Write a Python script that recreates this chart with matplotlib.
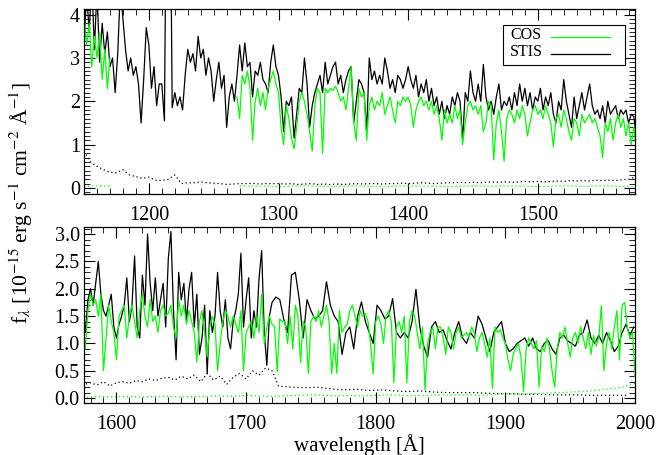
import numpy as np
import matplotlib
matplotlib.use("Agg")
import matplotlib.pyplot as plt
from matplotlib.ticker import MultipleLocator, FormatStrFormatter
from matplotlib.patches import Rectangle

plt.rcParams.update({
    "font.family": ["Liberation Serif", "DejaVu Serif"],
    "mathtext.fontset": "stix",
    "axes.linewidth": 0.9,
})

# STIS G140L flux, 1150-1720 A on a 2 A grid (1e-15 erg/s/cm2/A)
STIS_FUV_START, STIS_FUV_STEP = 1150.0, 2.0
stis_fuv_flux = [
    3.3, 4.5, 3.6, 4.8, 3.2,   4.6, 2.9, 3.8, 3.1, 3.6,
    2.8, 3.0, 2.2, 3.1, 4.6,   3.9, 3.2, 2.7, 3.0, 2.6,
    2.8, 2.4, 1.5, 2.5, 3.7,   3.3, 2.3, 2.8, 1.9, 2.4,
    2.4, 1.55, 9.0, 9.0, 1.85, 2.2, 1.9, 2.1, 1.8, 2.6,
    3.2, 2.9, 3.1, 2.7, 3.5,   3.0, 3.2, 2.6, 3.0, 2.7,
    2.0, 2.5, 2.9, 2.3, 2.6,   1.4, 2.1, 2.4, 2.0, 2.6,
    3.3, 2.7, 3.35, 2.8, 2.9,  2.1, 2.7, 2.6, 2.9, 2.5,
    2.4, 2.2, 2.9, 3.3, 2.8,   2.6, 2.1, 1.3, 2.0, 1.9,
    2.1, 1.15, 1.7, 2.3, 2.2,  3.0, 2.4, 1.4, 1.9, 2.2,
    2.4, 2.6, 2.2, 2.9, 2.4,   2.6, 2.8, 2.9, 2.4, 2.6,
    2.2, 2.5, 2.7, 2.8, 1.5,   2.0, 2.5, 2.4, 2.2, 1.3,
    3.0, 2.5, 2.7, 2.4, 2.6,   2.4, 3.0, 2.7, 2.3, 2.5,
    2.2, 2.6, 2.5, 2.3, 2.5,   2.8, 2.5, 2.3, 2.6, 2.1,
    2.4, 2.2, 2.5, 2.0, 2.3,   1.9, 2.1, 1.7, 2.0, 1.6,
    1.9, 1.7, 2.1, 1.9, 2.2,   2.0, 1.1, 2.2, 2.0, 2.7,
    2.2, 2.0, 2.4, 2.0, 2.85,  2.1, 1.8, 2.0, 1.7, 2.1,
    2.4, 1.8, 2.0, 1.9, 2.1,   1.8, 2.2, 1.9, 2.4, 2.0,
    2.3, 1.9, 2.2, 1.8, 2.1,   2.0, 2.3, 1.8, 2.1, 1.9,
    2.2, 1.7, 1.5, 2.0, 1.8,   2.5, 2.0, 1.7, 1.4, 2.1,
    1.6, 1.9, 2.2, 1.8, 2.1,   2.4, 1.9, 1.7, 1.8, 1.6,
    1.9, 1.5, 2.0, 1.7, 1.8,   1.9, 1.6, 1.8, 1.7, 1.8,
    1.5, 1.7, 1.65, 1.2, 1.8,  2.0, 1.7, 2.1, 2.5, 1.9,
    1.6, 1.5, 1.7, 1.9, 1.3,   1.1, 1.35, 1.5, 1.7, 2.2,
    1.4, 1.7, 2.6, 1.3, 1.1,   2.25, 1.7, 3.0, 2.1, 1.6,
    2.2, 1.5, 1.8, 2.1, 1.3,   2.55, 3.05, 1.6, 0.7, 2.3,
    1.8, 2.1, 1.4, 2.0, 2.3,   1.3, 1.9, 0.8, 1.1, 1.7,
    0.45, 1.6, 1.2, 1.5, 2.3,  1.6, 1.3, 1.8, 1.1, 0.9,
    1.4, 1.6, 1.9, 2.65, 1.3,  1.8, 2.2, 1.1, 1.6, 1.3,
    2.2, 2.7, 1.2, 0.6, 1.5,   1.75,
]

# STIS G230L flux, 1723-1999 A on a 3 A grid
STIS_NUV_START, STIS_NUV_STEP = 1723.0, 3.0
stis_nuv_flux = [
    1.85, 1.8, 1.45, 1.2, 2.25, 2.3, 1.8, 1.1, 1.8, 1.6,
    1.45, 1.5, 1.6, 2.13, 1.7, 1.5, 1.4, 0.8, 1.2, 1.3,
    0.9, 1.5, 1.76, 1.4, 1.2, 1.0, 1.7, 1.6, 1.45, 1.5,
    1.82, 1.2, 1.1, 1.2, 1.1, 1.4, 1.99, 1.3, 0.95, 0.75,
    1.3, 1.4, 1.2, 1.25, 1.05, 0.9, 1.2, 1.4, 1.1, 1.0,
    1.2, 1.1, 1.5, 1.35, 1.1, 0.85, 1.2, 1.3, 1.4, 1.0,
    0.85, 0.9, 1.0, 1.05, 1.1, 0.95, 1.1, 0.9, 0.85, 1.0,
    1.05, 0.9, 0.8, 1.1, 1.15, 1.05, 1.0, 0.95, 1.15, 1.2,
    1.43, 1.1, 1.0, 1.15, 1.0, 1.2, 1.05, 0.85, 0.95, 1.2,
    1.35, 1.15, 1.3,
]

# STIS errors: G140L every 5 A from 1150, G230L every 10 A from 1725
STIS_FUV_ERR_START, STIS_FUV_ERR_STEP = 1150.0, 5.0
stis_fuv_err = [
    0.85, 0.6, 0.5, 0.42, 0.36, 0.35, 0.42, 0.3, 0.26, 0.22,
    0.25, 0.18, 0.17, 0.2, 0.3, 0.1, 0.12, 0.12, 0.14, 0.12,
    0.11, 0.1, 0.08, 0.09, 0.1, 0.1, 0.11, 0.09, 0.1, 0.1,
    0.1, 0.09, 0.1, 0.08, 0.09, 0.1, 0.08, 0.09, 0.08, 0.09,
    0.08, 0.09, 0.1, 0.09, 0.1, 0.1, 0.09, 0.1, 0.1, 0.11,
    0.1, 0.11, 0.12, 0.11, 0.1, 0.11, 0.12, 0.12, 0.13, 0.12,
    0.13, 0.12, 0.13, 0.14, 0.13, 0.14, 0.13, 0.14, 0.15, 0.14,
    0.15, 0.14, 0.15, 0.16, 0.15, 0.17, 0.16, 0.17, 0.16, 0.18,
    0.17, 0.18, 0.17, 0.19, 0.2, 0.25, 0.28, 0.24, 0.3, 0.22,
    0.28, 0.3, 0.27, 0.32, 0.3, 0.35, 0.32, 0.36, 0.38, 0.33,
    0.4, 0.35, 0.42, 0.3, 0.45, 0.33, 0.4, 0.25, 0.38, 0.45,
    0.35, 0.5, 0.42, 0.55, 0.5,
]
STIS_NUV_ERR_START, STIS_NUV_ERR_STEP = 1725.0, 10.0
stis_nuv_err = [
    0.22, 0.2, 0.19, 0.2, 0.17, 0.15, 0.16, 0.14, 0.15, 0.13,
    0.12, 0.13, 0.11, 0.1, 0.1, 0.1, 0.09, 0.08, 0.08, 0.07,
    0.07, 0.06, 0.06, 0.06, 0.05, 0.05, 0.05, 0.05,
]

# COS flux: short blue piece (1150-1170) and main piece (1268-2000), 2 A grid
COS_A_START, COS_A_STEP = 1150.0, 2.0
cos_a_flux = [4.0, 3.3, 3.8, 2.8, 3.5, 3.0, 3.6, 2.5, 3.2, 2.3, 3.0]
COS_A_ERR_START, COS_A_ERR_STEP = 1150.0, 5.0
cos_a_err = [0.05, 0.04, 0.05, 0.04, 0.05]

COS_B_START, COS_B_STEP = 1268.0, 2.0
cos_b_flux = [
    2.1,
    1.6, 2.6, 2.4, 2.7, 2.3,    1.1, 2.0, 2.3, 1.9, 2.2,
    1.8, 2.3, 2.5, 2.7, 2.4,    2.2, 1.4, 1.0, 1.9, 1.6,
    1.15, 0.9, 1.4, 2.0, 2.2,   2.0, 1.7, 1.3, 0.85, 1.9,
    2.3, 2.2, 0.8, 2.3, 2.2,    2.3, 2.25, 2.35, 2.2, 2.0,
    2.1, 1.8, 2.3, 2.8, 1.5,    1.1, 2.3, 2.1, 2.2, 1.1,
    1.9, 2.1, 1.8, 2.0, 1.9,    2.2, 1.7, 1.9, 2.1, 1.8,
    1.5, 2.0, 1.9, 2.1, 2.0,    2.1, 1.9, 1.4, 1.8, 2.0,
    2.1, 1.9, 2.0, 1.8, 2.0,    1.7, 1.9, 1.6, 1.1, 1.8,
    1.5, 1.7, 1.5, 1.9, 1.6,    1.8, 1.0, 1.5, 1.9, 2.0,
    1.8, 1.9, 1.7, 1.9, 1.3,    1.5, 2.0, 1.9, 0.65, 1.5,
    1.8, 1.3, 0.62, 1.6, 1.8,   1.7, 1.5, 1.8, 1.6, 1.9,
    1.7, 1.2, 1.5, 1.8, 1.9,    1.7, 1.8, 1.6, 1.9, 1.7,
    1.5, 0.95, 1.6, 1.7, 1.4,   1.8, 1.6, 1.3, 1.1, 1.6,
    1.5, 1.2, 1.7, 1.5, 1.6,    1.7, 1.5, 1.6, 1.4, 1.2,
    0.7, 1.5, 1.3, 1.6, 1.1,    1.5, 1.7, 1.4, 1.6, 1.2,
    1.5, 1.0, 1.4, 0.9, 1.6,    1.9, 1.7, 1.8, 1.5, 1.9,
    0.5, 1.1, 1.7, 1.4, 1.2,    0.7, 1.5, 1.6, 1.7, 1.1,
    1.5, 1.7, 1.4, 1.1, 1.6,    1.9, 1.5, 1.3, 1.8, 1.4,
    1.5, 1.2, 1.6, 1.7, 1.5,    1.55, 1.7, 1.3, 1.1, 1.8,
    1.5, 1.7, 1.35, 1.6, 1.4,   1.2, 0.66, 1.4, 1.6, 1.2,
    0.75, 1.3, 1.5, 1.35, 0.5,  1.0, 1.4, 1.6, 1.5, 1.3,
    1.5, 1.35, 1.2, 1.6, 0.5,   1.2, 1.3, 1.4, 1.1, 1.5,
    1.2, 1.9, 1.0, 1.3, 1.5,    1.35, 1.3, 0.48, 1.45, 1.4,
    1.4, 1.0, 1.5, 0.9, 1.7,    1.5, 0.65, 1.4, 1.3, 0.45,
    1.4, 1.5, 1.4, 1.6, 1.3,    1.5, 1.7, 1.4, 0.45, 1.0,
    0.45, 1.6, 1.2, 1.3, 1.35,  1.6, 1.7, 1.5, 1.3, 1.6,
    1.5, 1.55, 1.4, 1.0, 0.44,  1.4, 1.5, 1.35, 1.0, 1.5,
    1.6, 1.4, 0.28, 1.3, 1.4,   1.2, 1.5, 0.28, 1.4, 1.6,
    1.5, 1.2, 0.9, 1.3, 0.15,   1.0, 1.2, 1.3, 0.9, 1.3,
    1.3, 1.1, 0.8, 1.3, 1.2,    0.9, 1.2, 1.3, 1.1, 1.15,
    1.2, 1.1, 1.3, 1.2, 0.85,   1.1, 1.2, 1.0, 0.75, 1.1,
    0.18, 1.3, 1.2, 1.25, 1.1,  1.0, 0.7, 0.5, 0.8, 0.9,
    1.0, 0.75, 0.12, 0.9, 1.1,  1.0, 0.9, 1.05, 0.2, 0.95,
    0.85, 1.1, 0.9, 0.5, 0.2,   0.9, 1.2, 1.1, 1.3, 1.0,
    0.75, 1.1, 1.2, 1.0, 1.3,   1.1, 0.9, 1.2, 0.8, 1.15,
    0.95, 1.1, 1.69, 0.5, 1.0,  1.2, 0.9, 1.3, 1.6, 0.7,
    1.7, 1.75, 1.3, 1.1, 1.2,   0.4,
]
COS_B_ERR_START, COS_B_ERR_STEP = 1270.0, 10.0
cos_b_err = [
    0.05, 0.04, 0.05, 0.03, 0.04, 0.05, 0.04, 0.03, 0.04, 0.05,
    0.04, 0.03, 0.04, 0.05, 0.04, 0.04, 0.03, 0.04, 0.05, 0.04,
    0.04, 0.05, 0.04, 0.03, 0.04, 0.05, 0.04, 0.04, 0.05, 0.04,
    0.03, 0.02, 0.03, 0.02, 0.03, 0.02, 0.03, 0.03, 0.02, 0.03,
    0.03, 0.04, 0.03, 0.05, 0.04, 0.03, 0.04, 0.05, 0.06, 0.05,
    0.04, 0.05, 0.04, 0.05, 0.06, 0.05, 0.04, 0.05, 0.06, 0.05,
    0.06, 0.05, 0.07, 0.08, 0.07, 0.08, 0.09, 0.1, 0.11, 0.12,
    0.14, 0.17, 0.2, 0.27,
]

COS_COLOR = "#00ff00"
STIS_COLOR = "black"
LW = 0.9
DOT = (0, (1, 2.2))


def grid(start, step, values):
    values = np.asarray(values, dtype=float)
    return start + step * np.arange(values.size), values


def join(*pieces):
    return (np.concatenate([p[0] for p in pieces]),
            np.concatenate([p[1] for p in pieces]))


# the two STIS gratings are spliced into one continuous spectrum
stis = join(grid(STIS_FUV_START, STIS_FUV_STEP, stis_fuv_flux),
            grid(STIS_NUV_START, STIS_NUV_STEP, stis_nuv_flux))
stis_err = join(grid(STIS_FUV_ERR_START, STIS_FUV_ERR_STEP, stis_fuv_err),
                grid(STIS_NUV_ERR_START, STIS_NUV_ERR_STEP, stis_nuv_err))
cos_pieces = [grid(COS_A_START, COS_A_STEP, cos_a_flux),
              grid(COS_B_START, COS_B_STEP, cos_b_flux)]
cos_err_pieces = [grid(COS_A_ERR_START, COS_A_ERR_STEP, cos_a_err),
                  grid(COS_B_ERR_START, COS_B_ERR_STEP, cos_b_err)]


def draw_panel(ax):
    ax.plot(*stis_err, color=STIS_COLOR, lw=LW, ls=DOT)
    for w, e in cos_err_pieces:
        ax.plot(w, e, color=COS_COLOR, lw=LW, ls=DOT)
    ax.plot(*stis, color=STIS_COLOR, lw=LW)
    for w, f in cos_pieces:
        ax.plot(w, f, color=COS_COLOR, lw=LW)


def style_axis(ax, xlim, ylim, ymajor, yfmt):
    ax.set_xlim(*xlim)
    ax.set_ylim(*ylim)
    ax.xaxis.set_major_locator(MultipleLocator(100))
    ax.xaxis.set_minor_locator(MultipleLocator(10))
    ax.yaxis.set_major_locator(MultipleLocator(ymajor))
    ax.yaxis.set_minor_locator(MultipleLocator(0.1))
    ax.yaxis.set_major_formatter(FormatStrFormatter(yfmt))
    ax.tick_params(which="both", direction="in", top=True, right=True,
                   labelsize=14.5)
    ax.tick_params(which="major", length=8, width=0.8)
    ax.tick_params(which="minor", length=4, width=0.6)
    ax.tick_params(axis="x", pad=8.5)
    ax.tick_params(axis="y", pad=3)


def draw_legend(ax, entries):
    # boxed key, label on the left and a short line sample on the right
    ax.add_patch(Rectangle((0.760, 0.697), 0.222, 0.2165,
                           transform=ax.transAxes, fill=True, fc="white",
                           ec="black", lw=0.8, zorder=5))
    for i, (label, color) in enumerate(entries):
        ty = 0.857 - 0.09 * i
        ax.text(0.773, ty, label, transform=ax.transAxes, fontsize=11.5,
                ha="left", va="center", zorder=6)
        ax.plot([0.8475, 0.9546], [ty - 0.008, ty - 0.008],
                transform=ax.transAxes, color=color, lw=LW, zorder=6)


fig = plt.figure(figsize=(6.57, 4.55), dpi=100)
ax1 = fig.add_axes([0.1279, 0.5736, 0.8387, 0.4066])
ax2 = fig.add_axes([0.1279, 0.1143, 0.8387, 0.3868])

draw_panel(ax1)
draw_panel(ax2)
style_axis(ax1, (1150, 1575), (-0.14, 4.13), 1, "%d")
style_axis(ax2, (1575, 2000), (-0.09, 3.13), 0.5, "%.1f")
draw_legend(ax1, [("COS", COS_COLOR), ("STIS", STIS_COLOR)])

ax2.set_xlabel("wavelength [Å]", fontsize=15, labelpad=0)
fig.text(0.032, 0.554,
         r"f$_\lambda$ [10$^{-15}$ erg s$^{-1}$ cm$^{-2}$ Å$^{-1}$]",
         rotation=90, ha="center", va="center", fontsize=15.6)

fig.savefig("out.png", dpi=100)
